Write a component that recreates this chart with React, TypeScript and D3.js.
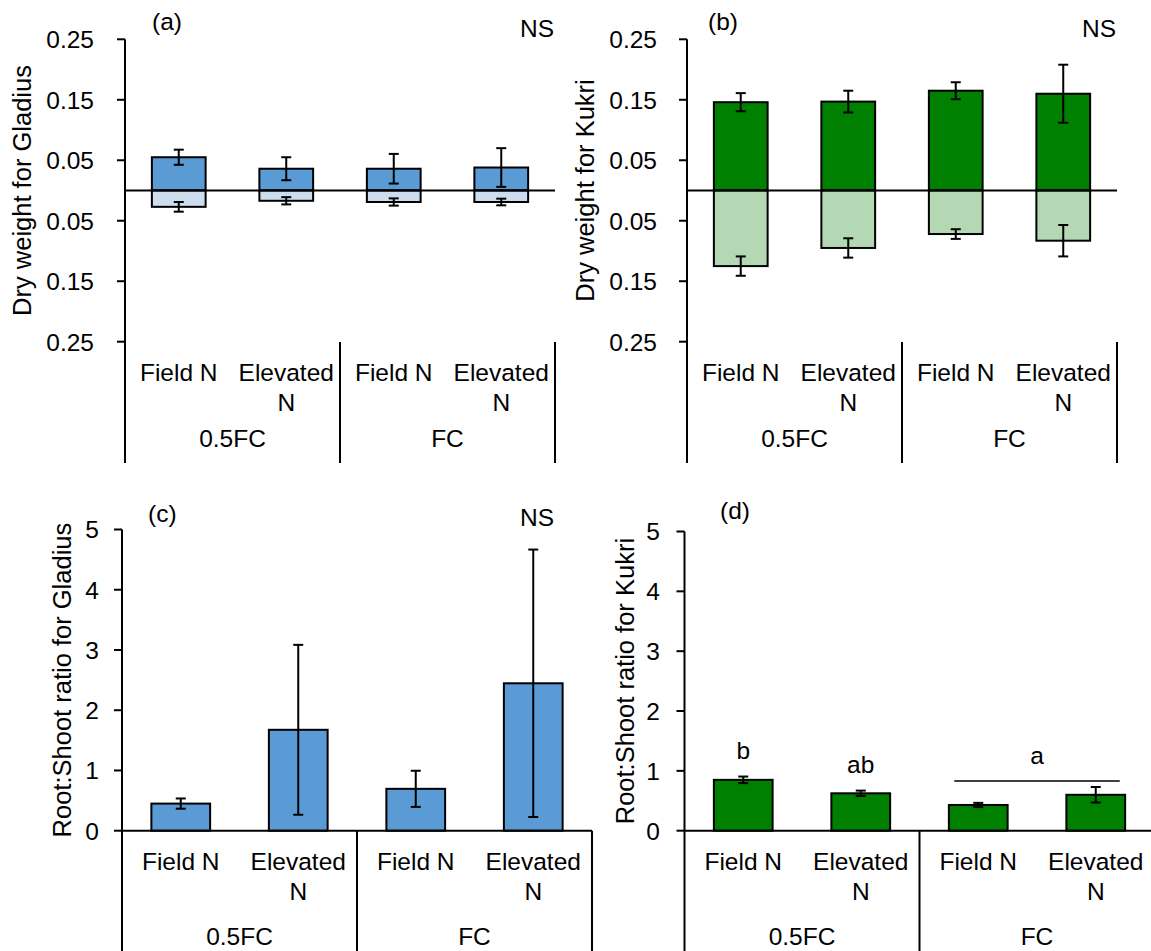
import React from 'react';
import * as d3 from 'd3';

// Treatment categories (two levels: water regime / nitrogen)
const categories = ['0.5FC-Field N', '0.5FC-Elevated N', 'FC-Field N', 'FC-Elevated N'];
const categoryLines = [['Field N'], ['Elevated', 'N'], ['Field N'], ['Elevated', 'N']];
const waterLevels = ['0.5FC', 'FC'];

// Dry weight (g): shoot drawn upward, root drawn downward
const gladiusShoot = [0.055, 0.036, 0.036, 0.038];
const gladiusShootErr = [0.0125, 0.019, 0.0245, 0.032];
const gladiusRoot = [0.027, 0.017, 0.019, 0.019];
const gladiusRootErr = [0.008, 0.006, 0.006, 0.0055];

const kukriShoot = [0.146, 0.147, 0.165, 0.16];
const kukriShootErr = [0.015, 0.018, 0.014, 0.048];
const kukriRoot = [0.125, 0.095, 0.072, 0.083];
const kukriRootErr = [0.016, 0.016, 0.008, 0.026];

// Root:Shoot ratio
const gladiusRatio = [0.45, 1.675, 0.695, 2.447];
const gladiusRatioErr = [0.085, 1.41, 0.3, 2.22];
const kukriRatio = [0.85, 0.625, 0.43, 0.6];
const kukriRatioErr = [0.055, 0.045, 0.035, 0.13];

// Axis ticks
const dryWeightTicks = [0.25, 0.15, 0.05, -0.05, -0.15, -0.25];
const ratioTicks = [0, 1, 2, 3, 4, 5];

// Significance letters for Kukri root:shoot ratio
const kukriLetters = ['b', 'ab'];
const kukriGroupLetter = 'a';

const FONT = '"Liberation Sans", Arial, Helvetica, sans-serif';
const FS = 24.5;

const BLUE = '#5B9BD5';
const LIGHT_BLUE = '#CCDDEE';
const GREEN = '#008000';
const LIGHT_GREEN = '#B4D8B4';

type Series = { values: number[]; errors: number[]; sign: 1 | -1; fill: string };

type PanelProps = {
  left: number;
  right: number;
  top: number;
  bottom: number;
  domain: [number, number];
  ticks: number[];
  tickFormat: (v: number) => string;
  tickGap: number;
  title: string;
  titleX: number;
  series: Series[];
  zeroLine: boolean;
  bracketTop: number;
  bracketBottom: number;
  catBaseline: number;
  groupBaseline: number;
  tag: string;
  tagX: number;
  tagY: number;
  ns?: { x: number; y: number };
  children?: (x: d3.ScaleBand<string>, y: d3.ScaleLinear<number, number>) => React.ReactNode;
};

function Panel(p: PanelProps) {
  const x = d3.scaleBand<string>().domain(categories).range([p.left, p.right]).paddingInner(0.5).paddingOuter(0.25);
  const y = d3.scaleLinear().domain(p.domain).range([p.bottom, p.top]);
  const step = (p.right - p.left) / categories.length;
  const y0 = y(0);
  const cap = 5;
  const midY = (p.top + p.bottom) / 2;

  return (
    <g>
      {/* bars */}
      {p.series.map((s, si) =>
        s.values.map((v, i) => {
          const yv = y(s.sign * v);
          return (
            <rect
              key={`b${si}-${i}`}
              x={x(categories[i])}
              width={x.bandwidth()}
              y={Math.min(yv, y0)}
              height={Math.abs(yv - y0)}
              fill={s.fill}
              stroke="#000"
              strokeWidth={2}
            />
          );
        })
      )}
      {/* horizontal axis at zero */}
      <line x1={p.left} x2={p.right} y1={y0} y2={y0} stroke="#000" strokeWidth={2} />
      {/* error bars */}
      {p.series.map((s, si) =>
        s.values.map((v, i) => {
          const cx = (x(categories[i]) as number) + x.bandwidth() / 2;
          const ya = y(s.sign * (v + s.errors[i]));
          const yb = y(s.sign * (v - s.errors[i]));
          return (
            <g key={`e${si}-${i}`} stroke="#000" strokeWidth={2}>
              <line x1={cx} x2={cx} y1={ya} y2={yb} />
              <line x1={cx - cap} x2={cx + cap} y1={ya} y2={ya} />
              <line x1={cx - cap} x2={cx + cap} y1={yb} y2={yb} />
            </g>
          );
        })
      )}
      {/* vertical axis, running down into the category brackets */}
      <line x1={p.left} x2={p.left} y1={p.top} y2={p.bracketBottom} stroke="#000" strokeWidth={2} />
      {p.ticks.map((t) => (
        <g key={`t${t}`}>
          <line x1={p.left - 8} x2={p.left} y1={y(t)} y2={y(t)} stroke="#000" strokeWidth={2} />
          <text
            x={p.left - p.tickGap}
            y={y(t)}
            dy="0.36em"
            textAnchor="end"
            fontSize={FS}
            fontFamily={FONT}
            fill="#000"
          >
            {p.tickFormat(t)}
          </text>
        </g>
      ))}
      {/* group separators */}
      {[1, 2].map((g) => {
        const gx = p.left + g * step * 2;
        return (
          <line key={`s${g}`} x1={gx} x2={gx} y1={p.bracketTop} y2={p.bracketBottom} stroke="#000" strokeWidth={2} />
        );
      })}
      {/* category labels */}
      {categories.map((c, i) => {
        const cx = (x(c) as number) + x.bandwidth() / 2;
        return categoryLines[i].map((ln, li) => (
          <text
            key={`c${i}-${li}`}
            x={cx}
            y={p.catBaseline + li * 30}
            textAnchor="middle"
            fontSize={FS}
            fontFamily={FONT}
            fill="#000"
          >
            {ln}
          </text>
        ));
      })}
      {waterLevels.map((w, g) => (
        <text
          key={`w${g}`}
          x={p.left + step * (2 * g + 1)}
          y={p.groupBaseline}
          textAnchor="middle"
          fontSize={FS}
          fontFamily={FONT}
          fill="#000"
        >
          {w}
        </text>
      ))}
      {/* axis title */}
      <text
        transform={`translate(${p.titleX},${midY}) rotate(-90)`}
        dy="0.3em"
        textAnchor="middle"
        fontSize={FS + 1}
        fontFamily={FONT}
        fill="#000"
      >
        {p.title}
      </text>
      <text x={p.tagX} y={p.tagY} fontSize={FS} fontFamily={FONT} fill="#000">
        {p.tag}
      </text>
      {p.ns && (
        <text x={p.ns.x} y={p.ns.y} textAnchor="end" fontSize={FS} fontFamily={FONT} fill="#000">
          NS
        </text>
      )}
      {p.children && p.children(x, y)}
    </g>
  );
}

const absFmt = (v: number) => d3.format('.2f')(Math.abs(v));
const intFmt = (v: number) => d3.format('d')(v);

export default function App() {
  const W = 1151;
  const H = 951;
  return (
    <svg
      width={W}
      height={H}
      viewBox={`0 0 ${W} ${H}`}
      style={{ position: 'absolute', left: 0, top: 0, background: '#fff' }}
    >
      <rect width={W} height={H} fill="#fff" />
      {/* (a) Gladius dry weight */}
      <Panel
        left={125}
        right={555}
        top={39.3}
        bottom={341.7}
        domain={[-0.25, 0.25]}
        ticks={dryWeightTicks}
        tickFormat={absFmt}
        tickGap={31}
        title="Dry weight for Gladius"
        titleX={23}
        series={[
          { values: gladiusShoot, errors: gladiusShootErr, sign: 1, fill: BLUE },
          { values: gladiusRoot, errors: gladiusRootErr, sign: -1, fill: LIGHT_BLUE },
        ]}
        zeroLine
        bracketTop={342}
        bracketBottom={463}
        catBaseline={381}
        groupBaseline={446.7}
        tag="(a)"
        tagX={152}
        tagY={30}
        ns={{ x: 554, y: 37 }}
      />
      {/* (b) Kukri dry weight */}
      <Panel
        left={687}
        right={1117}
        top={39.3}
        bottom={341.7}
        domain={[-0.25, 0.25]}
        ticks={dryWeightTicks}
        tickFormat={absFmt}
        tickGap={30}
        title="Dry weight for Kukri"
        titleX={586.5}
        series={[
          { values: kukriShoot, errors: kukriShootErr, sign: 1, fill: GREEN },
          { values: kukriRoot, errors: kukriRootErr, sign: -1, fill: LIGHT_GREEN },
        ]}
        zeroLine
        bracketTop={342}
        bracketBottom={463}
        catBaseline={381}
        groupBaseline={446.7}
        tag="(b)"
        tagX={708}
        tagY={30}
        ns={{ x: 1116, y: 37 }}
      />
      {/* (c) Gladius root:shoot ratio */}
      <Panel
        left={122}
        right={592}
        top={529.5}
        bottom={830.7}
        domain={[0, 5]}
        ticks={ratioTicks}
        tickFormat={intFmt}
        tickGap={23}
        title="Root:Shoot ratio for Gladius"
        titleX={63}
        series={[{ values: gladiusRatio, errors: gladiusRatioErr, sign: 1, fill: BLUE }]}
        zeroLine
        bracketTop={830.7}
        bracketBottom={960}
        catBaseline={870}
        groupBaseline={945}
        tag="(c)"
        tagX={148}
        tagY={521.5}
        ns={{ x: 554, y: 526 }}
      />
      {/* (d) Kukri root:shoot ratio */}
      <Panel
        left={684.5}
        right={1154.5}
        top={531.5}
        bottom={830.7}
        domain={[0, 5]}
        ticks={ratioTicks}
        tickFormat={intFmt}
        tickGap={24.5}
        title="Root:Shoot ratio for Kukri"
        titleX={626}
        series={[{ values: kukriRatio, errors: kukriRatioErr, sign: 1, fill: GREEN }]}
        zeroLine
        bracketTop={830.7}
        bracketBottom={960}
        catBaseline={870}
        groupBaseline={945}
        tag="(d)"
        tagX={720}
        tagY={519}
      >
        {(x, y) => {
          const bw = x.bandwidth();
          const centre = (i: number) => (x(categories[i]) as number) + bw / 2;
          const groupTop = Math.max(kukriRatio[2] + kukriRatioErr[2], kukriRatio[3] + kukriRatioErr[3]);
          const lineY = y(groupTop) - 6;
          const x1 = centre(2) - 24;
          const x2 = centre(3) + 24;
          return (
            <g fontSize={FS} fontFamily={FONT} fill="#000" textAnchor="middle">
              {kukriLetters.map((l, i) => (
                <text key={l} x={centre(i)} y={y(kukriRatio[i] + kukriRatioErr[i]) - 18}>
                  {l}
                </text>
              ))}
              <line x1={x1} x2={x2} y1={lineY} y2={lineY} stroke="#000" strokeWidth={1.3} />
              <text x={(x1 + x2) / 2} y={lineY - 17}>
                {kukriGroupLetter}
              </text>
            </g>
          );
        }}
      </Panel>
    </svg>
  );
}
